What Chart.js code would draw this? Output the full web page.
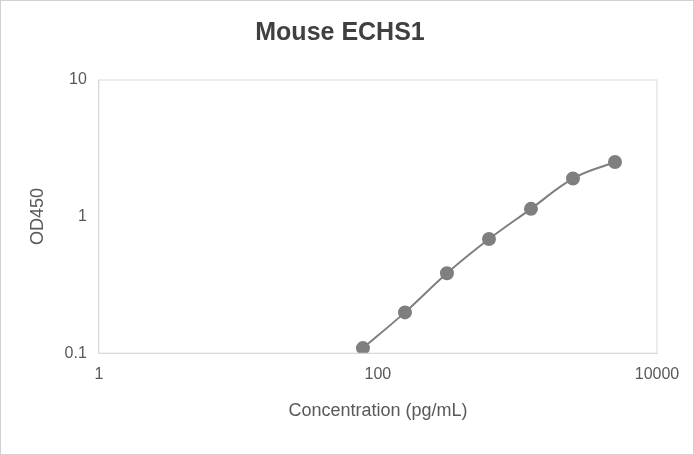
<!DOCTYPE html>
<html><head><meta charset="utf-8">
<script src="https://cdn.jsdelivr.net/npm/chart.js@4"></script>
<style>html,body{margin:0;padding:0;background:#fff}
#w{width:692px;height:453px;border:1px solid #d0d0d0}</style></head>
<body><div id="w"><canvas id="c" width="692" height="453"></canvas></div>
<script>
const concentrations=[78.125,156.25,312.5,625,1250,2500,5000];
const od450=[0.109,0.199,0.385,0.685,1.14,1.9,2.51];
const xTicks=[1,100,10000];
const yTicks=[0.1,1,10];
const font={family:"'Liberation Sans', Arial, sans-serif",size:16};
new Chart(document.getElementById('c'),{
type:'scatter',
data:{datasets:[{data:concentrations.map((x,i)=>({x,y:od450[i]})),showLine:true,tension:0.4,
borderColor:'#7f7f7f',backgroundColor:'#7f7f7f',borderWidth:2,pointRadius:6,pointHoverRadius:6}]},
options:{responsive:false,animation:false,
layout:{padding:{right:36,top:0,left:22,bottom:28}},
plugins:{legend:{display:false},tooltip:{enabled:false},
title:{display:true,text:'Mouse ECHS1',color:'#404040',font:{family:font.family,size:25,weight:'bold'},padding:{top:17,bottom:32}}},
scales:{
x:{type:'logarithmic',min:1,max:10000,afterBuildTicks:a=>{a.ticks=xTicks.map(v=>({value:v}))},
ticks:{color:'#595959',font,callback:v=>String(v),padding:12},
grid:{display:false,drawTicks:false},border:{color:'#d9d9d9'},
title:{display:true,text:'Concentration (pg/mL)',color:'#595959',font:{family:font.family,size:18}}},
y:{type:'logarithmic',min:0.1,max:10,afterBuildTicks:a=>{a.ticks=yTicks.map(v=>({value:v}))},
ticks:{color:'#595959',font,callback:v=>String(v),padding:12},
grid:{display:false,drawTicks:false},border:{color:'#d9d9d9'},
title:{display:true,text:'OD450',color:'#595959',font:{family:font.family,size:18}}}
}},
plugins:[{id:'frame',afterDraw(c){const a=c.chartArea,x=c.ctx;x.save();x.strokeStyle='#d9d9d9';x.lineWidth=1;x.strokeRect(a.left,a.top,a.right-a.left,a.bottom-a.top);x.restore();}}]
});
</script></body></html>
